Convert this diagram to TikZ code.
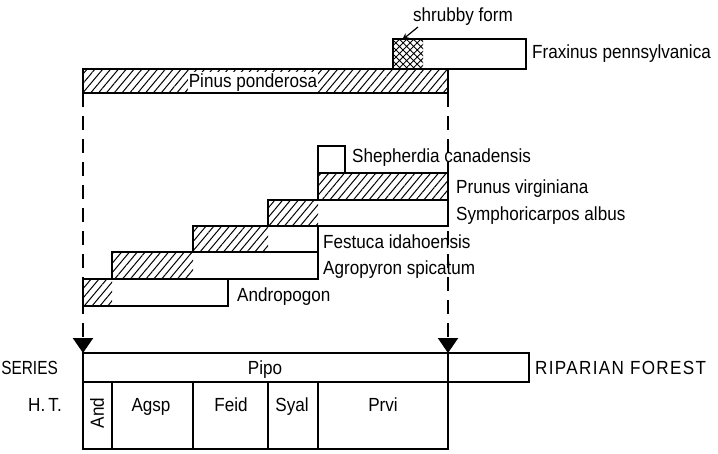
\documentclass[tikz,border=0pt]{standalone}
\usepackage{graphicx}
\usepackage{fontspec}
\setmainfont[FakeStretch=0.9]{Liberation Sans}
\usetikzlibrary{patterns.meta,arrows.meta}
\begin{document}
\begin{tikzpicture}[x=1pt,y=-1pt,
  lab/.style={font=\fontsize{19}{21}\selectfont, inner sep=0pt, anchor=base},
  labw/.style={lab, anchor=base west},
  labe/.style={lab, anchor=base east},
  box/.style={draw=black, line width=1.8pt},
  hatch/.style={pattern={Lines[angle=50,distance=6pt,line width=1pt]}},
  xhatch/.style={pattern={Hatch[angle=45,distance=5pt,line width=0.9pt]}},
  guide/.style={line width=2.2pt, dash pattern=on 14pt off 9pt},
  pointer/.style={line width=1.2pt, -{Stealth[length=7pt,width=6pt]}},
  bigtip/.style={-{Triangle[length=15pt,width=20pt]}}]
\useasboundingbox (0,0) rectangle (718,453);

% hatched fills
\fill[xhatch] (393,39) rectangle (423,69);
\fill[hatch] (83,69) rectangle (448,93);
\fill[hatch] (318,173) rectangle (448,200);
\fill[hatch] (268,200) rectangle (318,226);
\fill[hatch] (193,226) rectangle (268,252);
\fill[hatch] (112,252) rectangle (193,279);
\fill[hatch] (83,279) rectangle (112,306);

% guides
\coordinate (gl1) at (83,93);  \coordinate (gl2) at (83,353);
\coordinate (gr1) at (448,93); \coordinate (gr2) at (448,353);
\draw[guide,bigtip] (gl1) -- (gl2);
\draw[guide,bigtip] (gr1) -- (gr2);

% bars
\draw[box] (393,39) rectangle (526,69);
\draw[box] (83,69) rectangle (448,93);
\draw[box] (318,146) rectangle (345,173);
\draw[box] (318,173) rectangle (448,200);
\draw[box] (268,200) rectangle (448,226);
\draw[box] (193,226) rectangle (318,252);
\draw[box] (112,252) rectangle (318,279);
\draw[box] (83,279) rectangle (228,306);

% series / habitat types
\draw[box] (83,353) rectangle (529,382);
\draw[box] (448,353) -- (448,449);
\draw[box] (83,382) rectangle (448,449);
\foreach \xx in {112,193,268,318} \draw[box] (\xx,382) -- (\xx,449);

% labels
\node[lab] (shr) at (463,21) {shrubby form};
\coordinate (sa) at (418,27); \coordinate (sb) at (402,40);
\draw[pointer] (sa) -- (sb);
\node[labw] (frx) at (532,58) {Fraxinus pennsylvanica};
\node[lab, fill=white, inner sep=1pt] (pin) at (253,87) {Pinus ponderosa};
\node[labw] (she) at (352,162) {Shepherdia canadensis};
\node[labw] (pru) at (456,193) {Prunus virginiana};
\node[labw] (sym) at (456,220) {Symphoricarpos albus};
\node[labw] (fes) at (323,248) {Festuca idahoensis};
\node[labw] (agr) at (323,274) {Agropyron spicatum};
\node[labw] (anp) at (237,301) {Andropogon};
\node[labe] (ser) at (58,374) {\scalebox{0.9}[1]{SERIES}};
\node[lab] (pipo) at (265,374) {Pipo};
\node[labw] (rip) at (535,374) {\addfontfeature{LetterSpace=7}RIPARIAN FOREST};
\node[labe] (ht) at (62,411) {H.\,T.};
\node[lab, anchor=center, rotate=90] (hand) at (97,413) {And};
\node[lab] (hagsp) at (151,411) {Agsp};
\node[lab] (hfeid) at (231,411) {Feid};
\node[lab] (hsyal) at (292,411) {Syal};
\node[lab] (hprvi) at (383,411) {Prvi};
\end{tikzpicture}
\end{document}
